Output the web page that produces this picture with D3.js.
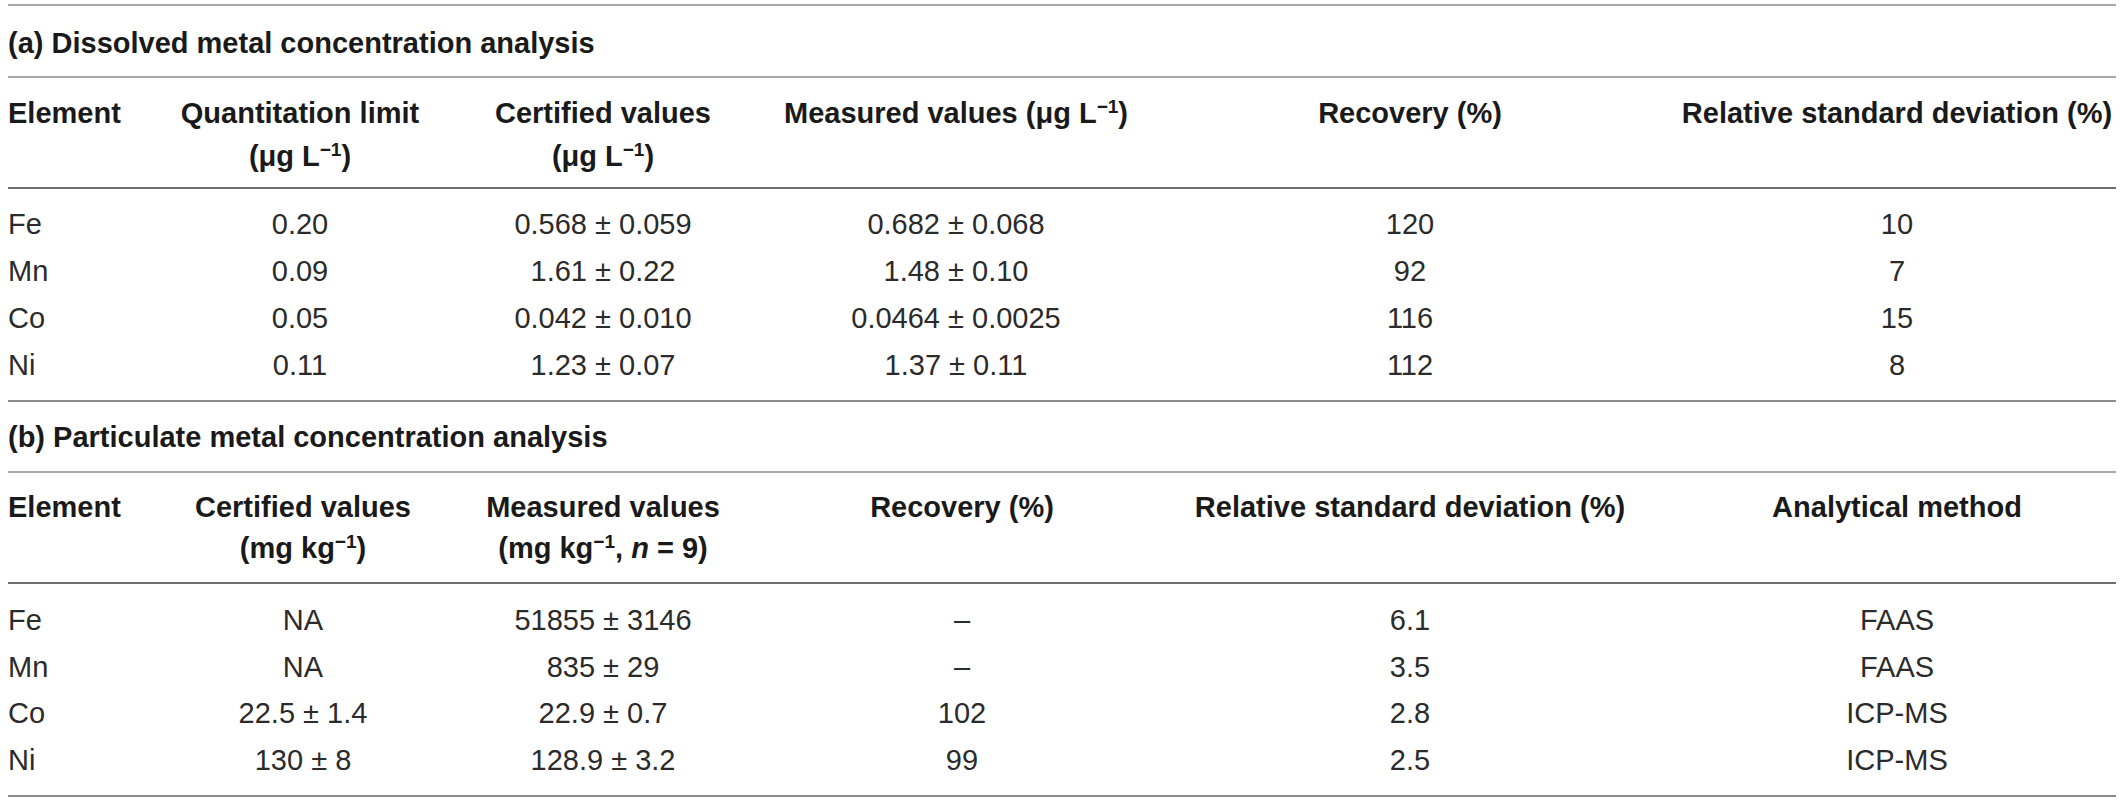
<!DOCTYPE html>
<html>
<head>
<meta charset="utf-8">
<script src="https://cdn.jsdelivr.net/npm/d3@7"></script>
<style>
  html, body { margin: 0; padding: 0; background: #fff; }
  svg { display: block; }
  text { font-family: "Liberation Sans", Arial, Helvetica, sans-serif; }
</style>
</head>
<body>
<svg id="chart" width="2120" height="801"></svg>
<script>
// ---------------- DATA ----------------
const titleA = "(a) Dissolved metal concentration analysis";
const titleB = "(b) Particulate metal concentration analysis";

const elements = ["Fe", "Mn", "Co", "Ni"];

// Section (a) header lines (segments; sup = superscript, it = italic)
const headersA = [
  [[{t: "Element"}], []],
  [[{t: "Quantitation limit"}], [{t: "(\u03bcg L"}, {t: "\u22121", sup: true}, {t: ")"}]],
  [[{t: "Certified values"}], [{t: "(\u03bcg L"}, {t: "\u22121", sup: true}, {t: ")"}]],
  [[{t: "Measured values (\u03bcg L"}, {t: "\u22121", sup: true}, {t: ")"}], []],
  [[{t: "Recovery (%)"}], []],
  [[{t: "Relative standard deviation (%)"}], []]
];

const quantLimitA = ["0.20", "0.09", "0.05", "0.11"];
const certifiedA  = ["0.568 \u00b1 0.059", "1.61 \u00b1 0.22", "0.042 \u00b1 0.010", "1.23 \u00b1 0.07"];
const measuredA   = ["0.682 \u00b1 0.068", "1.48 \u00b1 0.10", "0.0464 \u00b1 0.0025", "1.37 \u00b1 0.11"];
const recoveryA   = ["120", "92", "116", "112"];
const rsdA        = ["10", "7", "15", "8"];

// Section (b)
const headersB = [
  [[{t: "Element"}], []],
  [[{t: "Certified values"}], [{t: "(mg kg"}, {t: "\u22121", sup: true}, {t: ")"}]],
  [[{t: "Measured values"}], [{t: "(mg kg"}, {t: "\u22121", sup: true}, {t: ", "}, {t: "n", it: true}, {t: " = 9)"}]],
  [[{t: "Recovery (%)"}], []],
  [[{t: "Relative standard deviation (%)"}], []],
  [[{t: "Analytical method"}], []]
];

const certifiedB = ["NA", "NA", "22.5 \u00b1 1.4", "130 \u00b1 8"];
const measuredB  = ["51855 \u00b1 3146", "835 \u00b1 29", "22.9 \u00b1 0.7", "128.9 \u00b1 3.2"];
const recoveryB  = ["\u2013", "\u2013", "102", "99"];
const rsdB       = ["6.1", "3.5", "2.8", "2.5"];
const methodB    = ["FAAS", "FAAS", "ICP-MS", "ICP-MS"];

// ---------------- LAYOUT ----------------
const W = 2120;
const FS = 29;
const svg = d3.select("#chart");

const colsA = [elements, quantLimitA, certifiedA, measuredA, recoveryA, rsdA];
const colsB = [elements, certifiedB, measuredB, recoveryB, rsdB, methodB];

const xA = d3.scaleOrdinal().domain(d3.range(6)).range([8, 300, 603, 956, 1410, 1897]);
const xB = d3.scaleOrdinal().domain(d3.range(6)).range([8, 303, 603, 962, 1410, 1897]);

const yRowsA = d3.scalePoint().domain(elements).range([234, 375]);
const yRowsB = d3.scalePoint().domain(elements).range([630, 770]);

function hline(y, color) {
  svg.append("line")
    .attr("x1", 8).attr("x2", 2116)
    .attr("y1", y).attr("y2", y)
    .attr("stroke", color).attr("stroke-width", 2);
}

function writeSegments(sel, segs) {
  segs.forEach(s => {
    const ts = sel.append("tspan").text(s.t);
    if (s.sup) ts.attr("font-size", 19).attr("baseline-shift", "super").attr("dy", 0);
    if (s.it) ts.attr("font-style", "italic");
  });
}

function section(cfg) {
  // title
  svg.append("text")
    .attr("x", 8).attr("y", cfg.titleY)
    .attr("font-size", FS).attr("font-weight", "bold").attr("fill", "#1a1a1a")
    .text(cfg.title);

  // headers
  cfg.headers.forEach((h, i) => {
    h.forEach((line, li) => {
      if (!line.length) return;
      const t = svg.append("text")
        .attr("x", cfg.x(i))
        .attr("y", li === 0 ? cfg.h1Y : cfg.h2Y)
        .attr("text-anchor", i === 0 ? "start" : "middle")
        .attr("font-size", FS).attr("font-weight", "bold").attr("fill", "#1a1a1a");
      writeSegments(t, line);
    });
  });

  // body
  cfg.cols.forEach((col, ci) => {
    svg.append("g").selectAll("text")
      .data(col.map((v, ri) => ({v, el: elements[ri]})))
      .join("text")
      .attr("x", cfg.x(ci))
      .attr("y", d => cfg.y(d.el))
      .attr("text-anchor", ci === 0 ? "start" : "middle")
      .attr("font-size", FS).attr("fill", "#2b2b2b")
      .text(d => d.v);
  });
}

// rules
hline(5, "#a8a8a8");
hline(77, "#a8a8a8");
hline(188, "#6e6e6e");
hline(401, "#8c8c8c");
hline(472, "#a8a8a8");
hline(583, "#6e6e6e");
hline(796, "#8c8c8c");

section({title: titleA, titleY: 53, h1Y: 123, h2Y: 166, headers: headersA, cols: colsA, x: xA, y: yRowsA});
section({title: titleB, titleY: 447, h1Y: 517, h2Y: 558, headers: headersB, cols: colsB, x: xB, y: yRowsB});
</script>
</body>
</html>
